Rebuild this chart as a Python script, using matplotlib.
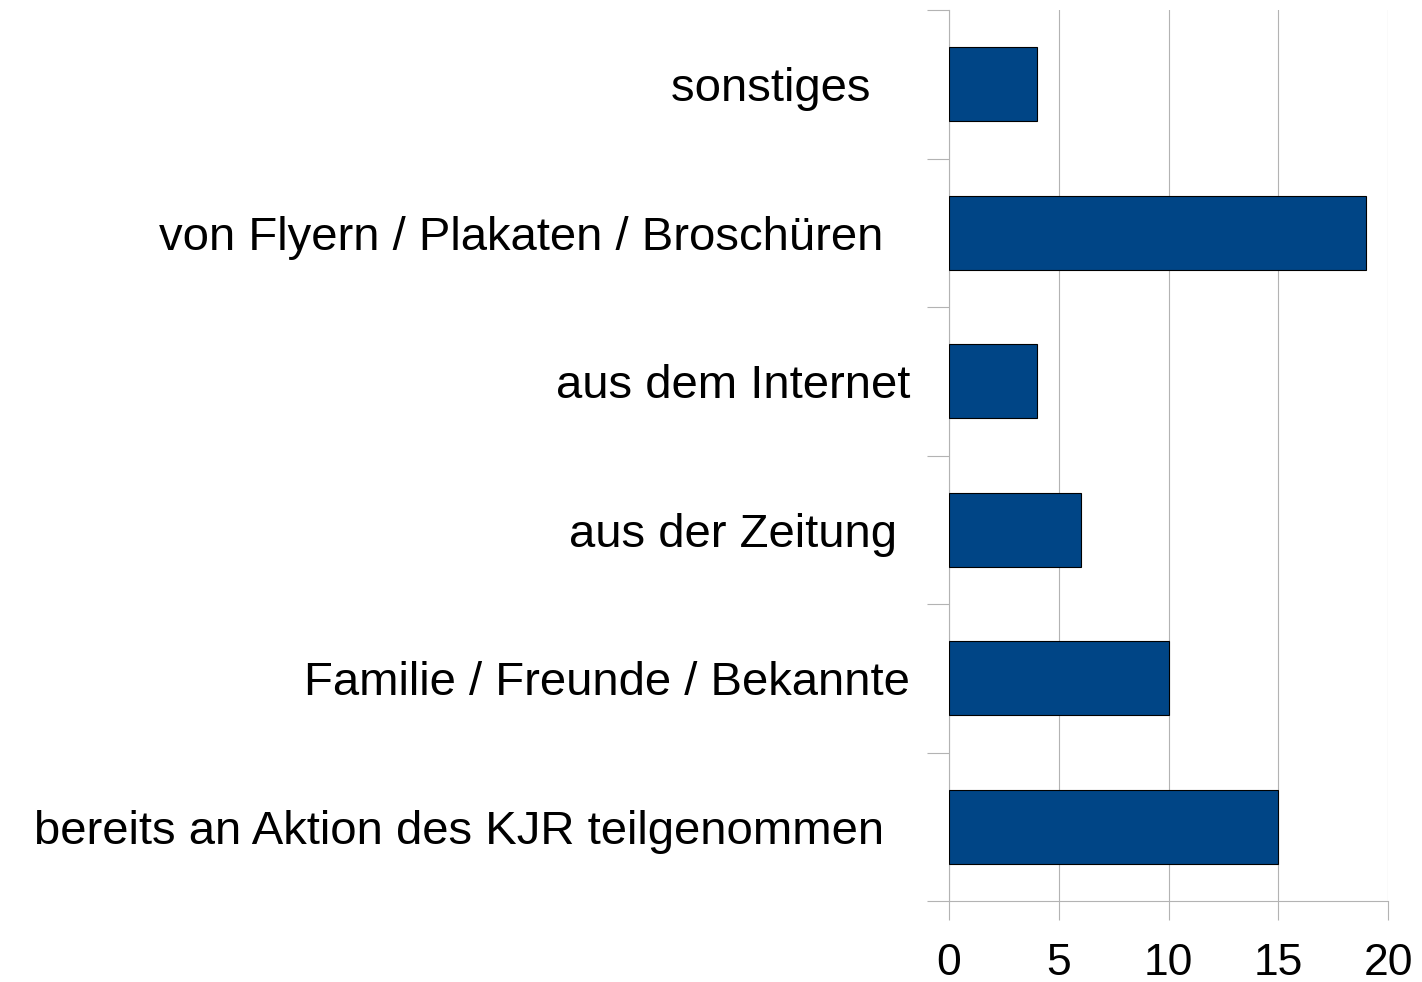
import numpy as np
import matplotlib.pyplot as plt
from matplotlib.ticker import FixedLocator

# categories from bottom to top
labels = [
    "bereits an Aktion des KJR teilgenommen  ",
    "Familie / Freunde / Bekannte",
    "aus der Zeitung ",
    "aus dem Internet",
    "von Flyern / Plakaten / Broschüren  ",
    "sonstiges   ",
]
values = [15, 10, 6, 4, 19, 4]
xticks = [0, 5, 10, 15, 20]

plt.rcParams['font.family'] = ['Liberation Sans', 'DejaVu Sans']

fig = plt.figure(figsize=(14.22, 9.82), dpi=100)
ax = fig.add_axes([949 / 1422, 1 - 901 / 982, (1388 - 949) / 1422, (901 - 10) / 982])

grey = '#b3b3b3'
y = np.arange(len(labels))
ax.barh(y, values, height=0.5, color='#004586', edgecolor='black', linewidth=0.8, zorder=3)

ax.set_xlim(0, 20)
ax.set_ylim(-0.5, len(labels) - 0.5)
ax.set_xticks(xticks)
ax.set_xticklabels([str(t) for t in xticks])
ax.xaxis.grid(True, color=grey, linewidth=0.8, zorder=0)

ax.set_yticks(y)
ax.set_yticklabels(labels)
ax.yaxis.set_minor_locator(FixedLocator(np.arange(-0.5, len(labels), 1.0)))
ax.tick_params(axis='y', which='major', length=0, pad=28, labelsize=34)
ax.tick_params(axis='y', which='minor', length=16, color=grey, width=0.8)
ax.tick_params(axis='x', length=14, color=grey, width=0.8, pad=16, labelsize=32)

for s in ['top', 'right']:
    ax.spines[s].set_visible(False)
for s in ['left', 'bottom']:
    ax.spines[s].set_color(grey)
    ax.spines[s].set_linewidth(0.8)

fig.savefig('out.png', dpi=100)
